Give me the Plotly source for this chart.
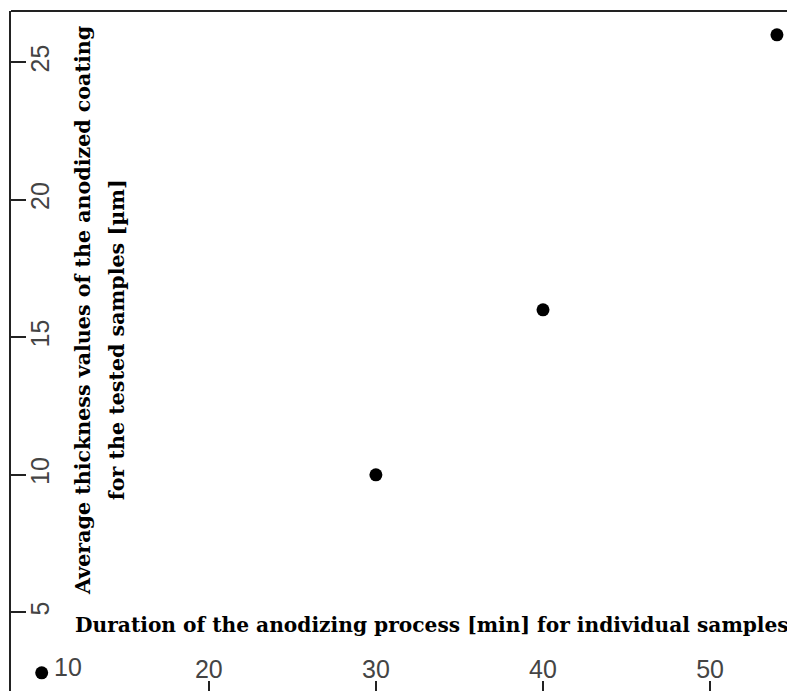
import plotly.graph_objects as go

duration_min = [10, 30, 40, 54]
thickness_um = [2.8, 10, 16, 26]

x_tickvals = [10, 20, 30, 40, 50]
x_ticktext = ["", "20", "30", "40", "50"]
x_first_tickval = 10
x_first_ticktext = "10"
y_tickvals = [5, 10, 15, 20, 25]
y_ticktext = ["5", "10", "15", "20", "25"]

x_title = "Duration of the anodizing process [min] for individual samples"
y_title_1 = "Average thickness values of the anodized coating"
y_title_2 = "for the tested samples [µm]"

x_range = [8.163, 55.08]
y_range = [2.138, 26.865]

fig = go.Figure()
fig.add_trace(go.Scatter(
    x=duration_min, y=thickness_um, mode="markers",
    marker=dict(color="black", size=13),
    cliponaxis=False, showlegend=False,
))

tick_font = dict(family="Liberation Sans, Arial, sans-serif", size=25, color="#444")
title_font_x = dict(family="DejaVu Serif, serif", size=20.2, color="black")
title_font_y = dict(family="DejaVu Serif, serif", size=20.6, color="black")

fig.update_layout(
    width=787, height=683,
    margin=dict(l=3, r=0, t=3, b=0),
    paper_bgcolor="white", plot_bgcolor="white",
    xaxis=dict(
        range=x_range, tickvals=x_tickvals, ticktext=x_ticktext,
        ticks="inside", ticklen=10, tickwidth=1.5, tickcolor="#222",
        ticklabelposition="inside", tickfont=tick_font,
        showgrid=False, zeroline=False, showline=False,
    ),
    yaxis=dict(
        range=y_range, tickvals=y_tickvals, ticktext=y_ticktext,
        ticks="inside", ticklen=15, tickwidth=1.5, tickcolor="#222",
        ticklabelposition="inside", tickangle=-90, tickfont=tick_font,
        ticklabelstandoff=-5,
        showgrid=False, zeroline=False, showline=True, linewidth=2, linecolor="#222",
    ),
    shapes=[dict(type="line", xref="paper", yref="paper", x0=0, x1=1, y0=1, y1=1,
                 line=dict(color="#222", width=2))],
    annotations=[
        # first x tick label, set beside its tick as in the original
        dict(text=x_first_ticktext, xref="x", yref="paper", x=x_first_tickval, y=0.0353,
             xshift=26, showarrow=False, font=tick_font, xanchor="center", yanchor="middle"),
        dict(text="<b>%s</b>" % x_title, xref="paper", yref="paper", x=0.537, y=0.097,
             showarrow=False, font=title_font_x, xanchor="center", yanchor="middle"),
        dict(text="<b>%s</b>" % y_title_1, xref="paper", yref="paper", x=0.0919, y=0.559,
             showarrow=False, font=title_font_y, textangle=-90, xanchor="center", yanchor="middle"),
        dict(text="<b>%s</b>" % y_title_2, xref="paper", yref="paper", x=0.1353, y=0.516,
             showarrow=False, font=title_font_y, textangle=-90, xanchor="center", yanchor="middle"),
    ],
)

fig.write_html("out.html")
